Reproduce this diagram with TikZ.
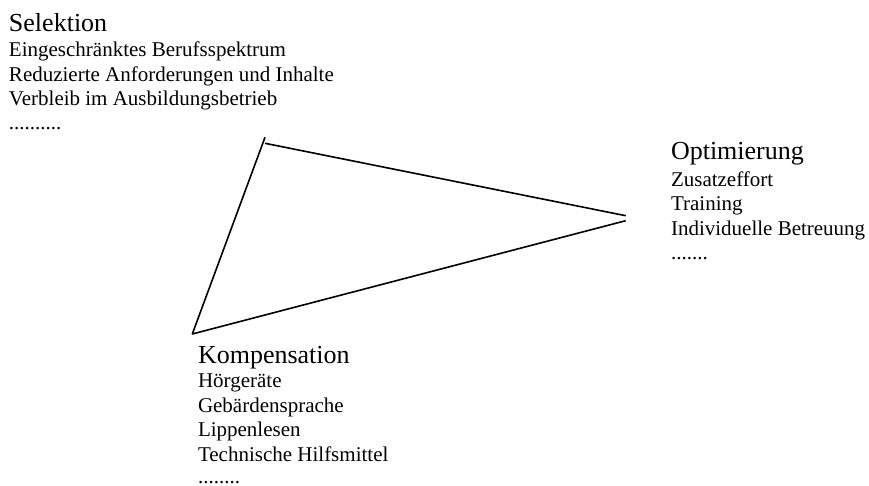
\documentclass[tikz,border=0pt]{standalone}
\usepackage{fontspec}
\setmainfont{Liberation Serif}
\begin{document}
\begin{tikzpicture}[x=1pt,y=-1pt,
  every node/.style={inner sep=0pt,outer sep=0pt,anchor=base west},
  head/.style={font=\fontsize{26}{30}\selectfont},
  item/.style={font=\fontsize{21}{24}\selectfont},
  edge/.style={line width=1.6pt,line cap=butt}]
\useasboundingbox (0,0) rectangle (869,486);
% Selektion
\node[head] (s0) at (9,31.5) {Selektion};
\node[item] (s1) at (9,57) {Eingeschränktes Berufsspektrum};
\node[item] (s2) at (9,81.5) {Reduzierte Anforderungen und Inhalte};
\node[item] (s3) at (9,106) {Verbleib im Ausbildungsbetrieb};
\node[item] (s4) at (9,129.5) {..........};
% Optimierung
\node[head] (o0) at (671,160) {Optimierung};
\node[item] (o1) at (671,186.5) {Zusatzeffort};
\node[item] (o2) at (671,211) {Training};
\node[item] (o3) at (671,235.5) {Individuelle Betreuung};
\node[item] (o4) at (671,259) {.......};
% Kompensation
\node[head] (k0) at (198,363) {Kompensation};
\node[item] (k1) at (198,387.5) {Hörgeräte};
\node[item] (k2) at (198,412) {Gebärdensprache};
\node[item] (k3) at (198,436.5) {Lippenlesen};
\node[item] (k4) at (198,461) {Technische Hilfsmittel};
\node[item] (k5) at (198,483.5) {........};
% triangle
\coordinate (t1) at (265,137.3);
\coordinate (t2) at (265,143.3);
\coordinate (r1) at (625.7,215.7);
\coordinate (r2) at (625.7,220.7);
\coordinate (b) at (192.3,334);
\draw[edge] (b) -- (t1);
\draw[edge] (t2) -- (r1);
\draw[edge] (b) -- (r2);
\end{tikzpicture}
\end{document}
